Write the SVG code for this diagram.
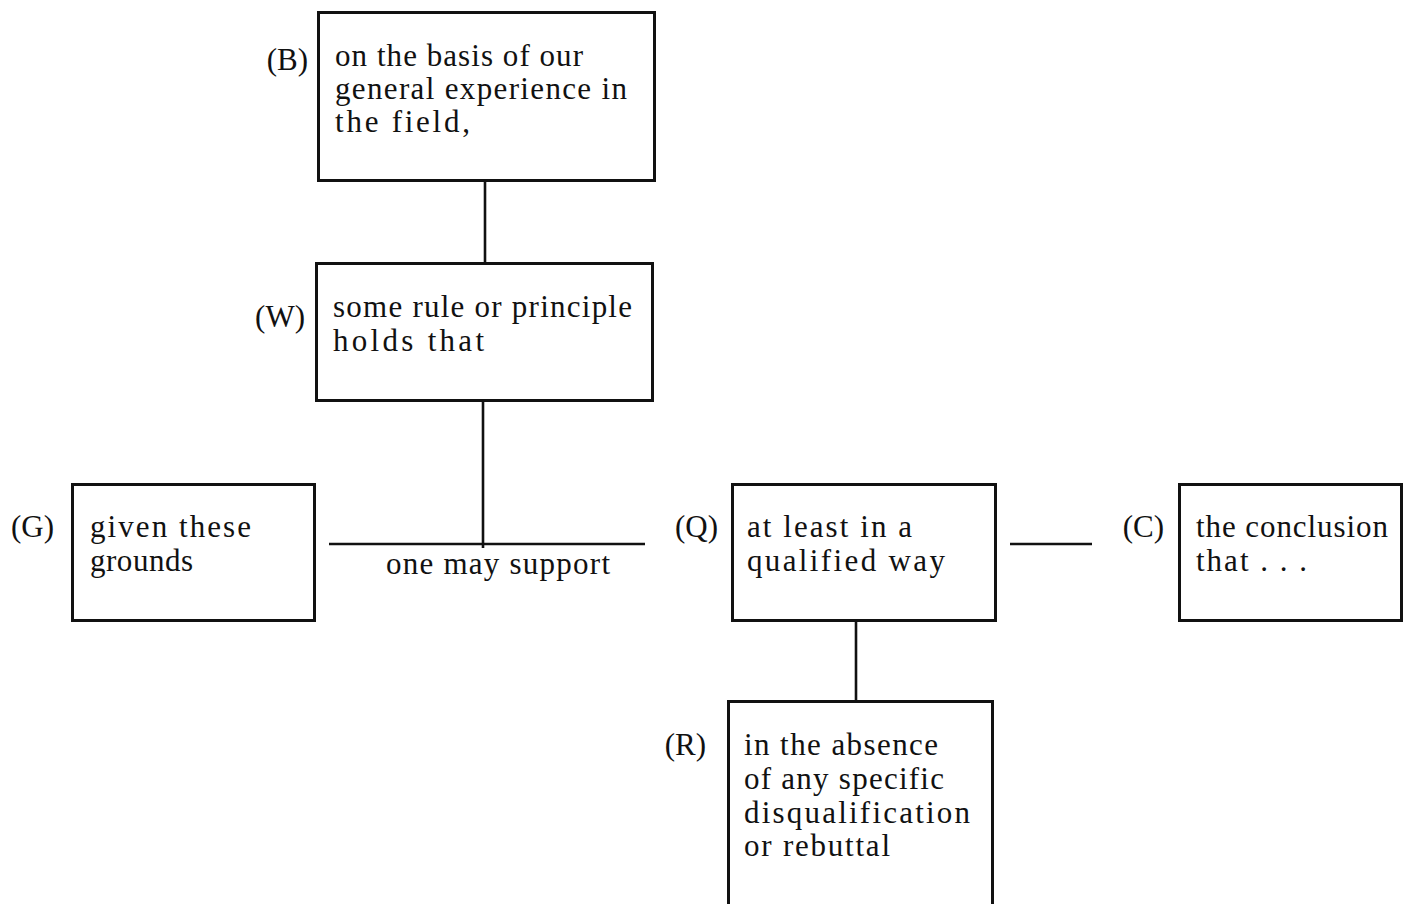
<svg xmlns="http://www.w3.org/2000/svg" width="1403" height="904" viewBox="0 0 1403 904">
<style>
.box{fill:#fff;stroke:#111;stroke-width:3}
.ln{stroke:#111;stroke-width:2.6;fill:none}
text{font-family:"Liberation Serif","DejaVu Serif",serif;font-size:31px;fill:#111}
.lab{text-anchor:end}
</style>
<rect width="1403" height="904" fill="#fff"/>
<g id="connectors">
<line class="ln" x1="485" y1="181" x2="485" y2="263"/>
<line class="ln" x1="483" y1="401" x2="483" y2="548"/>
<line class="ln" x1="329" y1="544" x2="645" y2="544"/>
<line class="ln" x1="1010" y1="544" x2="1092" y2="544"/>
<line class="ln" x1="856" y1="621" x2="856" y2="701"/>
<text x="386" y="574" textLength="224">one may support</text>
</g>
<g id="node-B">
<rect class="box" x="318.5" y="12.5" width="336" height="168"/>
<text class="lab" x="308" y="70">(B)</text>
<text x="335" y="66" textLength="248">on the basis of our</text>
<text x="335" y="99" textLength="292">general experience in</text>
<text x="335" y="132" textLength="135">the  field,</text>
</g>
<g id="node-W">
<rect class="box" x="316.5" y="263.5" width="336" height="137"/>
<text class="lab" x="305" y="327">(W)</text>
<text x="333" y="317" textLength="299">some rule or principle</text>
<text x="333" y="351" textLength="151">holds  that</text>
</g>
<g id="node-G">
<rect class="box" x="72.5" y="484.5" width="242" height="136"/>
<text class="lab" x="54" y="537">(G)</text>
<text x="90" y="537" textLength="161">given these</text>
<text x="90" y="571" textLength="103">grounds</text>
</g>
<g id="node-Q">
<rect class="box" x="732.5" y="484.5" width="263" height="136"/>
<text class="lab" x="718" y="537">(Q)</text>
<text x="747" y="537" textLength="165">at least in a</text>
<text x="747" y="571" textLength="198">qualified  way</text>
</g>
<g id="node-C">
<rect class="box" x="1179.5" y="484.5" width="222" height="136"/>
<text class="lab" x="1164" y="537">(C)</text>
<text x="1196" y="537" textLength="192">the conclusion</text>
<text x="1196" y="571" textLength="111">that . . .</text>
</g>
<g id="node-R">
<rect class="box" x="728.5" y="701.5" width="264" height="210"/>
<text class="lab" x="706" y="755">(R)</text>
<text x="744" y="755" textLength="194">in the absence</text>
<text x="744" y="789" textLength="200">of any specific</text>
<text x="744" y="823" textLength="226">disqualification</text>
<text x="744" y="856" textLength="146">or rebuttal</text>
</g>
</svg>
